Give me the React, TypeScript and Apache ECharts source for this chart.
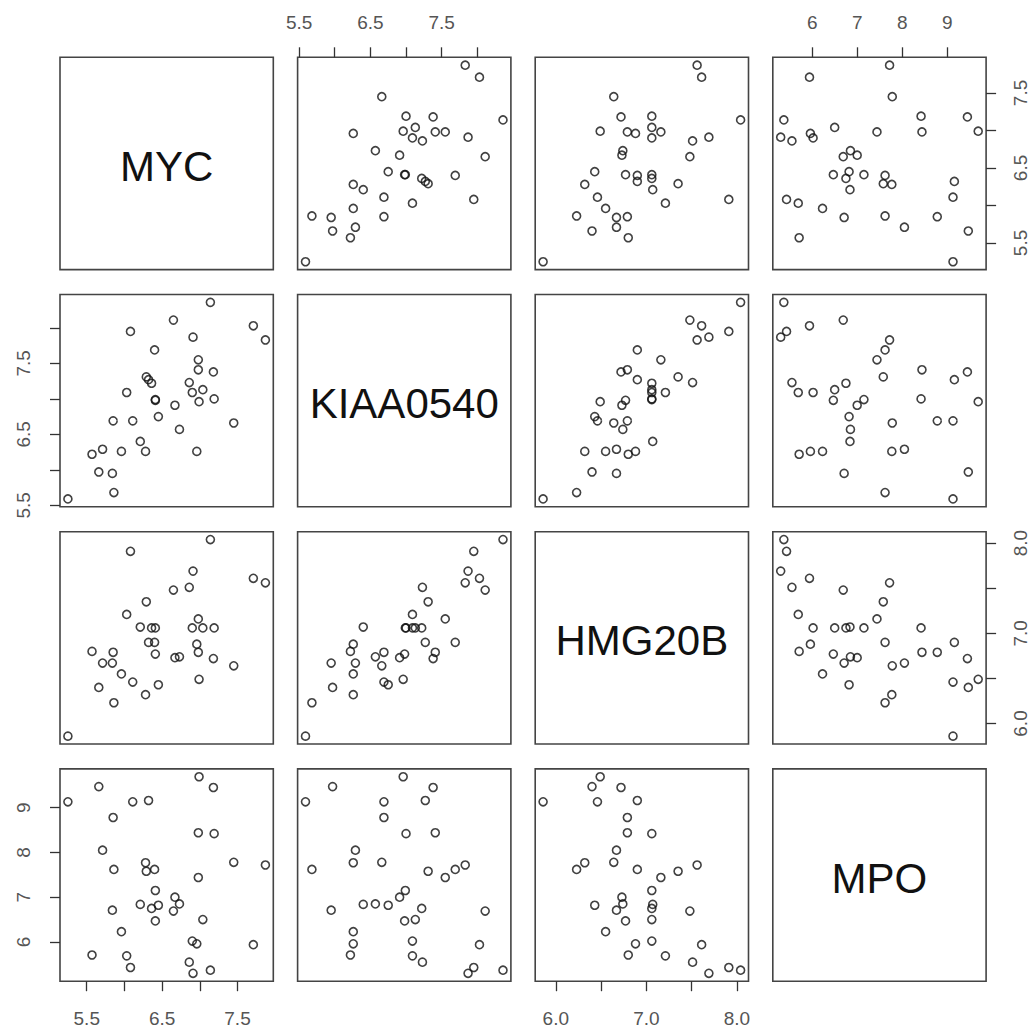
import React, { useEffect, useRef } from "react";
import * as echarts from "echarts";

// Variables of the scatterplot matrix (one value per sample)
const variableNames = ["MYC", "KIAA0540", "HMG20B", "MPO"];

const MYC = [7.14, 6.65, 7.71, 6.08, 7.87, 6.91, 6.40, 6.98, 6.98, 7.18, 6.29, 6.32, 6.36, 6.86, 7.04, 6.90, 6.03, 6.41, 6.41, 7.19, 6.99, 6.67, 6.45, 5.85, 6.11, 7.45, 6.73, 6.21, 6.28, 6.96, 5.71, 5.57, 5.96, 5.66, 5.84, 5.86, 5.25];
const KIAA0540 = [8.36, 8.11, 8.03, 7.95, 7.83, 7.87, 7.69, 7.55, 7.41, 7.38, 7.31, 7.27, 7.22, 7.23, 7.13, 7.09, 7.09, 6.99, 6.98, 7.00, 6.96, 6.91, 6.75, 6.69, 6.69, 6.66, 6.57, 6.40, 6.26, 6.26, 6.29, 6.22, 6.26, 5.97, 5.95, 5.68, 5.59];
const HMG20B = [8.04, 7.48, 7.61, 7.91, 7.56, 7.69, 6.90, 7.16, 6.79, 6.72, 7.35, 6.90, 7.06, 7.51, 7.06, 7.06, 7.21, 7.06, 6.77, 7.06, 6.49, 6.73, 6.43, 6.79, 6.46, 6.64, 6.74, 7.07, 6.32, 6.88, 6.67, 6.80, 6.55, 6.40, 6.67, 6.23, 5.86];
const MPO = [5.37, 6.69, 5.94, 5.43, 7.72, 5.30, 7.62, 7.44, 8.44, 9.45, 7.58, 9.16, 6.75, 5.55, 6.50, 6.02, 5.69, 7.15, 6.47, 8.42, 9.69, 7.00, 6.82, 8.78, 9.13, 7.78, 6.85, 6.84, 7.77, 5.96, 8.05, 5.71, 6.23, 9.47, 6.71, 7.62, 9.13];

const variables = [MYC, KIAA0540, HMG20B, MPO];

// Axis ticks and labelled ticks per variable
const tickValues = [
  [5.5, 6.0, 6.5, 7.0, 7.5],
  [5.5, 6.0, 6.5, 7.0, 7.5, 8.0],
  [6.0, 6.5, 7.0, 7.5, 8.0],
  [6, 7, 8, 9],
];
const labelValues = [
  [5.5, 6.5, 7.5],
  [5.5, 6.5, 7.5],
  [6.0, 7.0, 8.0],
  [6, 7, 8, 9],
];
const labelDecimals = [1, 1, 1, 0];

// Layout
const PANEL_LEFT = 60;
const PANEL_TOP = 57.3;
const STEP_X = 237.6;
const STEP_Y = 237.2;
const PANEL_W = 213.3;
const PANEL_H = 212.3;
const FONT = '"Liberation Sans", Arial, Helvetica, sans-serif';

function axisConfig(dim: "x" | "y", v: number, pos: string | null, gridIndex: number) {
  const vals = variables[v];
  const lo = Math.min(...vals);
  const hi = Math.max(...vals);
  const pad = (hi - lo) * 0.04;
  const base: any = {
    type: "value",
    gridIndex,
    min: lo - pad,
    max: hi + pad,
    splitLine: { show: false },
    axisLine: { show: false },
  };
  if (!pos) {
    return { ...base, axisTick: { show: false }, axisLabel: { show: false } };
  }
  const margin = pos === "top" ? 25 : pos === "bottom" ? 28 : pos === "left" ? 27 : 25;
  return {
    ...base,
    position: pos,
    axisTick: {
      show: true,
      inside: false,
      length: 10,
      customValues: tickValues[v],
      lineStyle: { color: "#333", width: 1.3 },
    },
    axisLabel: {
      show: true,
      customValues: labelValues[v],
      formatter: (x: number) => Number(x).toFixed(labelDecimals[v]),
      margin,
      rotate: dim === "y" ? 90 : 0,
      color: "#555",
      fontSize: 19,
      fontFamily: FONT,
    },
  };
}

export default function App() {
  const ref = useRef<HTMLDivElement>(null);
  useEffect(() => {
    if (!ref.current) return;
    const chart = echarts.init(ref.current, undefined, { renderer: "svg" });
    const grids: any[] = [];
    const xAxes: any[] = [];
    const yAxes: any[] = [];
    const series: any[] = [];
    const graphics: any[] = [];
    for (let r = 0; r < 4; r++) {
      for (let c = 0; c < 4; c++) {
        const idx = r * 4 + c;
        const left = PANEL_LEFT + c * STEP_X;
        const top = PANEL_TOP + r * STEP_Y;
        grids.push({
          left,
          top,
          width: PANEL_W,
          height: PANEL_H,
          show: true,
          borderColor: "#444",
          borderWidth: 1.6,
          backgroundColor: "transparent",
        });
        const xPos = r === 0 && c % 2 === 1 ? "top" : r === 3 && c % 2 === 0 ? "bottom" : null;
        const yPos = c === 0 && r % 2 === 1 ? "left" : c === 3 && r % 2 === 0 ? "right" : null;
        xAxes.push(axisConfig("x", c, xPos, idx));
        yAxes.push(axisConfig("y", r, yPos, idx));
        if (r !== c) {
          series.push({
            type: "scatter",
            xAxisIndex: idx,
            yAxisIndex: idx,
            data: variables[c].map((xv, i) => [xv, variables[r][i]]),
            symbol: "circle",
            symbolSize: 8,
            silent: true,
            itemStyle: { color: "rgba(0,0,0,0)", borderColor: "#111", borderWidth: 1.6 },
          });
        } else {
          graphics.push({
            type: "text",
            x: left + PANEL_W / 2,
            y: top + PANEL_H / 2 + 3,
            style: {
              text: variableNames[r],
              fontSize: 42,
              fontFamily: FONT,
              fill: "#111",
              align: "center",
              verticalAlign: "middle",
              textAlign: "center",
              textVerticalAlign: "middle",
            },
          });
        }
      }
    }
    chart.setOption({
      animation: false,
      backgroundColor: "#fff",
      grid: grids,
      xAxis: xAxes,
      yAxis: yAxes,
      series,
      graphic: graphics,
    });
    return () => chart.dispose();
  }, []);
  return (
    <div
      ref={ref}
      style={{ position: "fixed", left: 0, top: 0, width: 1035, height: 1034, background: "#fff" }}
    />
  );
}
